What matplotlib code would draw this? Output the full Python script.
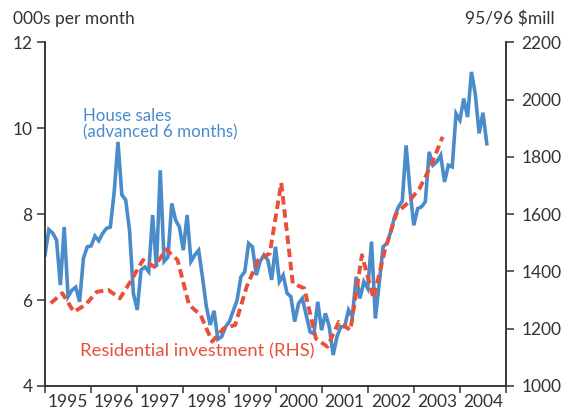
import matplotlib
matplotlib.use("Agg")
import matplotlib.pyplot as plt
from matplotlib.ticker import FixedLocator, NullFormatter
import numpy as np

# ---- data ----
house_sales = [7.05, 7.64, 7.56, 7.4, 6.35, 7.7, 6.08, 6.23, 6.3, 5.96, 6.97, 7.24,
               7.26, 7.49, 7.38, 7.55, 7.67, 7.7, 8.5, 9.68, 8.45, 8.33, 7.63, 6.16,
               5.77, 6.7, 6.77, 6.66, 7.98, 6.77, 9.02, 6.9, 7.0, 8.25, 7.86, 7.7,
               7.16, 7.98, 6.9, 7.05, 7.16, 6.53, 5.85, 5.42, 5.75, 5.09, 5.15, 5.38,
               5.5, 5.75, 6.0, 6.54, 6.66, 7.32, 7.24, 6.58, 6.9, 7.05, 6.93, 6.47,
               7.24, 6.43, 6.58, 6.16, 6.08, 5.5, 5.92, 6.04, 5.65, 5.26, 5.22, 5.96,
               5.3, 5.69, 5.38, 4.72, 5.15, 5.38, 5.38, 5.77, 5.61, 6.54, 6.04, 6.43,
               6.27, 7.36, 5.57, 6.39, 7.24, 7.32, 7.59, 7.94, 8.17, 8.3, 9.6, 8.56,
               7.74, 8.13, 8.17, 8.29, 9.45, 9.14, 9.22, 9.37, 8.75, 9.14, 9.1, 10.34,
               10.19, 10.69, 10.26, 11.31, 10.8, 9.88, 10.36, 9.64]
residential_inv = [1289, 1324, 1259, 1283, 1329, 1335, 1306, 1370, 1440, 1416, 1477, 1440,
                   1283, 1248, 1155, 1201, 1213, 1347, 1440, 1463, 1709, 1358, 1341, 1166,
                   1137, 1224, 1195, 1457, 1306, 1475, 1603, 1640, 1690, 1770, 1870]
years = [1995, 1996, 1997, 1998, 1999, 2000, 2001, 2002, 2003, 2004]
left_ticks = [4, 6, 8, 10, 12]
right_ticks = [1000, 1200, 1400, 1600, 1800, 2000, 2200]

start_year = 1995
t_sales = start_year + np.arange(len(house_sales)) / 12.0
t_inv = start_year + 0.125 + np.arange(len(residential_inv)) / 4.0

BLUE = "#4a8bca"
RED = "#e8503a"
TXT = "#333333"
FONT = ["Lato", "DejaVu Sans"]

plt.rcParams['font.family'] = FONT
plt.rcParams['font.weight'] = 'normal'

fig = plt.figure(figsize=(5.65, 4.12), dpi=100)
ax = fig.add_axes([45/565, 1-386/412, (506-45)/565, (386-42.3)/412])
ax2 = ax.twinx()

ax.plot(t_sales, house_sales, color=BLUE, lw=2.6, solid_joinstyle='miter', zorder=2)
ax2.plot(t_inv, residential_inv, color=RED, lw=2.8, dashes=(2.2, 1.2), zorder=3)

ax.set_zorder(1)
ax2.set_zorder(2)
ax.patch.set_visible(False)

ax.set_xlim(1995, 2005)
ax.set_ylim(4, 12)
ax2.set_ylim(1000, 2200)

for a in (ax, ax2):
    a.spines['top'].set_visible(False)
    for s in a.spines.values():
        s.set_color(TXT)
        s.set_linewidth(1.1)

ax.set_yticks(left_ticks)
ax2.set_yticks(right_ticks)
ax.tick_params(axis='y', direction='out', length=6, width=1.1, colors=TXT,
               labelsize=12.5, pad=3)
ax2.tick_params(axis='y', direction='out', length=6, width=1.1, colors=TXT,
                labelsize=12.5, pad=5)

# year boundaries as major ticks, labels at mid-year
ax.xaxis.set_major_locator(FixedLocator(list(years) + [years[-1] + 1]))
ax.xaxis.set_major_formatter(NullFormatter())
ax.xaxis.set_minor_locator(FixedLocator([y + 0.5 for y in years]))
ax.set_xticklabels([str(y) for y in years], minor=True)
ax.tick_params(axis='x', which='major', direction='out', length=5, width=1.1, colors=TXT)
ax.tick_params(axis='x', which='minor', length=0, labelsize=12.5, colors=TXT, pad=5.5)
ax2.tick_params(axis='x', which='both', length=0)

fig.text(13/565, 1-19/412, "000s per month", fontsize=12.5, color=TXT,
         ha='left', va='center')
fig.text(555/565, 1-19/412, "95/96 $mill", fontsize=12.5, color=TXT,
         ha='right', va='center')

ax.text(1995.83, 10.1, "House sales\n(advanced 6 months)", color=BLUE, fontsize=12.2,
        ha='left', va='center', linespacing=1.05)
ax.text(1995.76, 4.8, "Residential investment (RHS)", color=RED, fontsize=13.3,
        ha='left', va='center')

fig.savefig("out.png", dpi=100)
